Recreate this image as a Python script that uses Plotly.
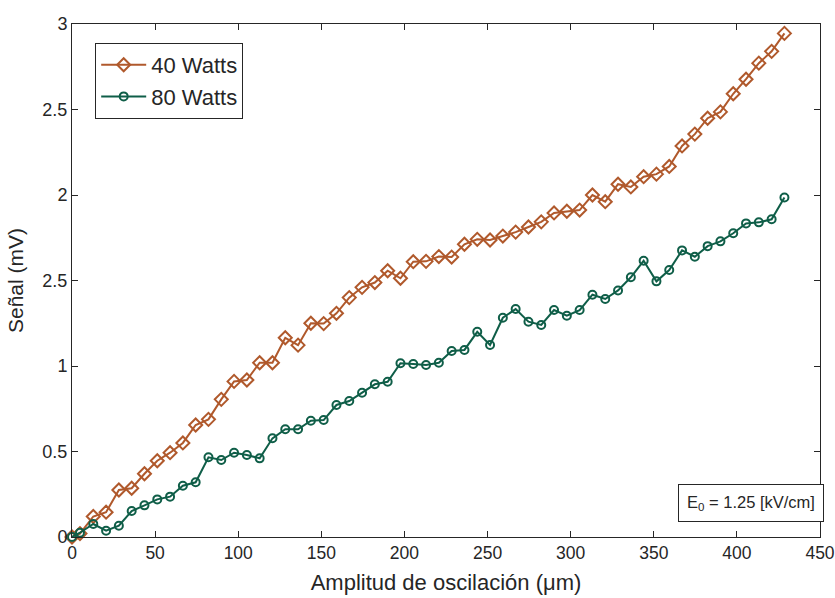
import plotly.graph_objects as go

amplitude_um = [0, 4.8, 12.8, 20.5, 28.2, 35.9, 43.6, 51.3, 59.0, 66.7, 74.4, 82.1, 89.8, 97.5,
                105.2, 112.9, 120.6, 128.3, 136.0, 143.7, 151.4, 159.1, 166.8, 174.5, 182.2,
                189.9, 197.6, 205.3, 213.0, 220.7, 228.4, 236.1, 243.8, 251.5, 259.2, 266.9,
                274.6, 282.3, 290.0, 297.7, 305.4, 313.1, 320.8, 328.5, 336.2, 343.9, 351.6,
                359.3, 367.0, 374.7, 382.4, 390.1, 397.8, 405.5, 413.2, 420.9, 428.6]

signal_40w = [0, 0.02, 0.12, 0.145, 0.275, 0.285, 0.37, 0.446, 0.493, 0.55, 0.655, 0.688, 0.805,
              0.91, 0.918, 1.019, 1.019, 1.165, 1.122, 1.25, 1.248, 1.308, 1.40, 1.46, 1.488,
              1.557, 1.513, 1.61, 1.612, 1.64, 1.637, 1.712, 1.741, 1.737, 1.76, 1.783, 1.813,
              1.843, 1.895, 1.905, 1.912, 2.0, 1.961, 2.063, 2.047, 2.107, 2.122, 2.167, 2.287,
              2.356, 2.449, 2.486, 2.592, 2.677, 2.771, 2.84, 2.945]

signal_80w = [0, 0.025, 0.076, 0.037, 0.066, 0.152, 0.185, 0.22, 0.236, 0.30, 0.32, 0.466, 0.45,
              0.493, 0.48, 0.46, 0.577, 0.63, 0.63, 0.68, 0.684, 0.772, 0.795, 0.844, 0.893,
              0.908, 1.016, 1.012, 1.006, 1.019, 1.088, 1.094, 1.2, 1.123, 1.282, 1.333, 1.259,
              1.24, 1.327, 1.294, 1.327, 1.417, 1.392, 1.442, 1.519, 1.615, 1.495, 1.561, 1.676,
              1.639, 1.701, 1.729, 1.776, 1.834, 1.84, 1.858, 1.985]

y_tickvals = [0, 0.5, 1, 1.5, 2, 2.5, 3]
y_ticktext = ["0", "0.5", "1", "2.5", "2", "2.5", "3"]
x_tickvals = [0, 50, 100, 150, 200, 250, 300, 350, 400, 450]

ORANGE = "#B0592C"
GREEN = "#0F5E48"
FONT = "Liberation Sans, Arial, sans-serif"
AX = "#262626"

fig = go.Figure()
fig.add_trace(go.Scatter(
    x=amplitude_um, y=signal_40w, name="40 Watts", mode="lines+markers",
    line=dict(color=ORANGE, width=2),
    marker=dict(symbol="diamond-open", size=10, color=ORANGE, line=dict(width=2, color=ORANGE)),
    cliponaxis=False))
fig.add_trace(go.Scatter(
    x=amplitude_um, y=signal_80w, name="80 Watts", mode="lines+markers",
    line=dict(color=GREEN, width=2),
    marker=dict(symbol="circle-open", size=8, color=GREEN, line=dict(width=2, color=GREEN)),
    cliponaxis=False))

axis_common = dict(showline=True, linecolor=AX, linewidth=1, mirror="ticks", ticks="inside",
                   ticklen=6, tickcolor=AX, showgrid=False, zeroline=False, automargin=False,
                   ticklabeloverflow="allow")

fig.update_xaxes(range=[0, 450], tickvals=x_tickvals,
                 tickfont=dict(family=FONT, size=17.5, color=AX),
                 title=dict(text="Amplitud de oscilación (μm)", font=dict(family=FONT, size=22, color=AX),
                            standoff=12),
                 **axis_common)
fig.update_yaxes(range=[0, 3], tickvals=y_tickvals, ticktext=y_ticktext,
                 tickfont=dict(family=FONT, size=18, color=AX),
                 title=dict(text="Señal (mV)", font=dict(family=FONT, size=21, color=AX), standoff=13),
                 **axis_common)

fig.add_annotation(x=1.005, y=0.029, xref="paper", yref="paper", xanchor="right", yanchor="bottom",
                   text="E<sub>0</sub> = 1.25 [kV/cm]", showarrow=False,
                   font=dict(family=FONT, size=16.5, color=AX),
                   bordercolor=AX, borderwidth=1, borderpad=8, bgcolor="white")

fig.update_layout(
    width=835, height=598,
    margin=dict(l=72, r=15, t=24, b=61),
    plot_bgcolor="white", paper_bgcolor="white",
    font=dict(family=FONT, color=AX),
    legend=dict(x=0.031, y=0.963, xanchor="left", yanchor="top",
                bordercolor=AX, borderwidth=1, bgcolor="white", itemwidth=45,
                font=dict(family=FONT, size=22, color=AX), tracegroupgap=0),
)

fig.write_html("out.html")
